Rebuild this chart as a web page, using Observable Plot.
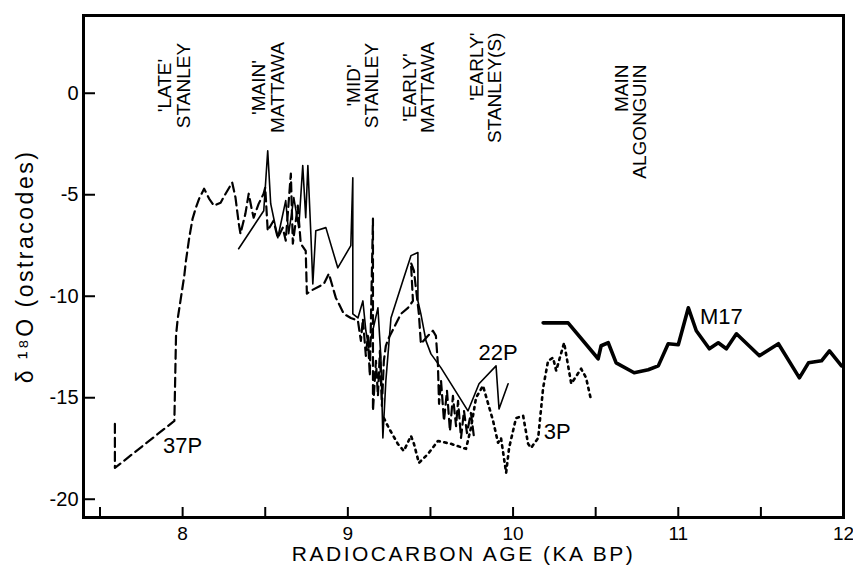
<!DOCTYPE html>
<html><head><meta charset="utf-8">
<script src="https://cdn.jsdelivr.net/npm/d3@7"></script>
<script src="https://cdn.jsdelivr.net/npm/@observablehq/plot@0.6"></script>
<style>body{margin:0;background:#fff}</style>
</head><body><div id="chart"></div>
<script>
// ---- Series data (radiocarbon age, ka BP ; delta 18O) ----
const age37P = [7.59,7.59,7.95,7.96,7.97,8.01,8.02,8.04,8.06,8.08,8.10,8.13,8.16,8.19,8.23,8.26,8.30,8.32,8.34,8.35,8.38,8.40,8.42,8.43,8.46,8.49,8.50,8.515,8.55,8.576,8.606,8.624,8.655,8.667,8.697,8.715,8.745,8.752,8.776,8.855,8.885,8.927,8.976,9.018,9.061,9.079,9.091,9.109,9.121,9.133,9.152,9.152,9.170,9.182,9.194,9.206,9.218,9.23,9.248,9.291,9.321,9.364,9.394,9.382,9.40,9.43,9.442,9.485,9.515,9.533,9.545,9.552,9.564,9.582,9.60,9.618,9.636,9.655,9.667,9.685,9.703,9.721,9.745,9.764];
const val37P = [-16.29,-18.46,-16.14,-11.95,-11.12,-8.99,-8.26,-7.12,-6.19,-5.64,-5.19,-4.70,-5.19,-5.54,-5.39,-4.95,-4.40,-5.14,-6.43,-6.92,-5.93,-4.95,-5.78,-6.13,-5.45,-4.95,-4.65,-6.77,-6.28,-7.12,-6.62,-7.26,-3.96,-7.41,-5.54,-7.41,-7.76,-9.87,-9.73,-9.39,-8.89,-10.07,-10.87,-11.07,-11.21,-12.2,-11.12,-12.94,-11.95,-13.92,-6.18,-15.65,-13.18,-14.91,-12.69,-15.4,-13.18,-12.44,-12.05,-11.36,-10.87,-10.57,-10.23,-8.35,-8.74,-10.87,-12.34,-11.95,-11.70,-11.95,-13.33,-15.3,-14.17,-16.14,-14.66,-16.64,-14.91,-16.4,-15.15,-16.98,-15.65,-16.74,-15.75,-16.98];

const age22P = [8.339,8.491,8.515,8.533,8.576,8.624,8.642,8.673,8.703,8.727,8.745,8.758,8.776,8.788,8.806,8.867,8.939,9.018,9.03,9.03,9.061,9.091,9.109,9.127,9.182,9.2,9.212,9.23,9.261,9.333,9.382,9.424,9.424,9.442,9.473,9.503,9.564,9.727,9.794,9.897,9.915,9.970];
const val22P = [-7.66,-5.79,-2.83,-5.44,-7.12,-5.29,-6.92,-5.14,-6.62,-3.56,-6.13,-3.56,-6.92,-9.39,-6.77,-6.62,-8.6,-7.51,-4.16,-10.87,-11.07,-10.23,-11.70,-12.54,-10.57,-13.03,-16.98,-14.17,-11.07,-9.24,-8.0,-7.85,-10.23,-10.87,-12.2,-12.84,-13.53,-15.65,-14.31,-13.43,-15.55,-14.31];

const age3P = [9.218,9.248,9.303,9.339,9.382,9.4,9.430,9.485,9.545,9.624,9.715,9.745,9.776,9.818,9.879,9.909,9.927,9.958,9.976,10.018,10.061,10.091,10.109,10.152,10.182,10.212,10.242,10.261,10.309,10.352,10.412,10.442,10.473];
const val3P = [-16.0,-16.49,-17.28,-17.62,-16.88,-17.27,-18.21,-17.77,-17.13,-17.27,-17.52,-16.49,-15.0,-14.41,-16.14,-17.22,-16.98,-18.7,-17.47,-16.0,-15.89,-17.27,-17.47,-16.98,-14.51,-13.18,-13.03,-13.67,-12.29,-14.31,-13.57,-14.02,-15.15];

const ageM17 = [10.182,10.333,10.515,10.533,10.576,10.624,10.733,10.818,10.879,10.939,11.0,11.061,11.109,11.188,11.242,11.291,11.352,11.491,11.606,11.733,11.788,11.867,11.915,11.988];
const valM17 = [-11.31,-11.31,-13.08,-12.44,-12.29,-13.28,-13.77,-13.62,-13.43,-12.34,-12.39,-10.57,-11.70,-12.59,-12.29,-12.59,-11.85,-12.93,-12.34,-14.02,-13.28,-13.18,-12.69,-13.43];

// ---- Ticks ----
const xTicks = [7.5, 8, 8.5, 9, 9.5, 10, 10.5, 11, 11.5, 12];
const yTicks = [0, -5, -10, -15, -20];

// ---- Lake-phase annotations ----
const centeredPhases = ["'LATE'\nSTANLEY", "'MAIN'\nMATTAWA", "'MID'\nSTANLEY", "'EARLY'\nMATTAWA"];
const centeredPhaseAges = [7.952, 8.521, 9.094, 9.430];
const centeredPhaseVals = [0.38, 0.28, 0.38, 0.28];
const toppedPhases = ["'EARLY'\nSTANLEY(S)", "MAIN\nALGONGUIN"];
const toppedPhaseAges = [9.839, 10.715];
const toppedPhaseVals = [2.99, 1.41];

// ---- Series labels ----
const seriesNames = ["37P", "22P", "3P", "M17"];
const seriesLabelAges = [8.0, 9.909, 10.267, 11.261];
const seriesLabelVals = [-17.38, -12.79, -16.68, -11.01];

const toRows = (a, v) => a.map((x, i) => ({age: x, d18: v[i]}));
const s37 = toRows(age37P, val37P);
const s22 = toRows(age22P, val22P);
const s3 = toRows(age3P, val3P);
const sM17 = toRows(ageM17, valM17);
const centered = centeredPhases.map((t, i) => ({t, age: centeredPhaseAges[i], v: centeredPhaseVals[i]}));
const topped = toppedPhases.map((t, i) => ({t, age: toppedPhaseAges[i], v: toppedPhaseVals[i]}));
const sLabels = seriesNames.map((t, i) => ({t, age: seriesLabelAges[i], v: seriesLabelVals[i]}));

const font = "'Liberation Sans', Arial, Helvetica, sans-serif";

const chart = Plot.plot({
  width: 853,
  height: 570,
  marginLeft: 83,
  marginRight: 10,
  marginTop: 15,
  marginBottom: 53,
  style: {fontFamily: font, fontSize: "20px", background: "white", color: "black", overflow: "visible"},
  x: {domain: [7.4, 12]},
  y: {domain: [-20.9, 3.83]},
  marks: [
    Plot.axisX({ticks: xTicks, tickSize: -10, tickPadding: 19, strokeWidth: 2, fontSize: 19,
      tickFormat: d => Number.isInteger(d) ? String(d) : "", label: null}),
    Plot.axisY({ticks: yTicks, tickSize: -12, tickPadding: 17, strokeWidth: 2, fontSize: 20,
      tickFormat: d => String(d), label: null}),
    Plot.line(s37, {x: "age", y: "d18", stroke: "black", strokeWidth: 2.2, strokeDasharray: "9,5"}),
    Plot.line(s22, {x: "age", y: "d18", stroke: "black", strokeWidth: 1.6}),
    Plot.line(s3, {x: "age", y: "d18", stroke: "black", strokeWidth: 2.6, strokeDasharray: "2.5,4.5"}),
    Plot.line(sM17, {x: "age", y: "d18", stroke: "black", strokeWidth: 3.6}),
    Plot.text(centered, {x: "age", y: "v", text: "t", rotate: -90, textAnchor: "middle", lineAnchor: "middle", lineHeight: 0.95, fontSize: 19, fill: "black"}),
    Plot.text(topped, {x: "age", y: "v", text: "t", rotate: -90, textAnchor: "end", lineAnchor: "middle", lineHeight: 0.95, fontSize: 19, fill: "black"}),
    Plot.text(sLabels, {x: "age", y: "v", text: "t", fontSize: 22, fill: "black"}),
    Plot.text(["RADIOCARBON AGE (KA BP)"], {text: d => d, frameAnchor: "bottom", textAnchor: "middle", lineAnchor: "middle", dy: 37, fontSize: 21, fill: "black"}),
    Plot.text(["δ ¹⁸O (ostracodes)"], {text: d => d, frameAnchor: "left", textAnchor: "middle", lineAnchor: "middle", dx: -58, rotate: -90, fontSize: 23, fill: "black"}),
    Plot.frame({stroke: "black", strokeWidth: 3})
  ]
});
chart.querySelectorAll("text").forEach(t => {
  if (t.textContent.startsWith("RADIOCARBON")) t.setAttribute("letter-spacing", "2.5");
  if (t.textContent.includes("ostracodes")) t.setAttribute("letter-spacing", "2.5");
});
document.getElementById("chart").appendChild(chart);
</script>
</body></html>
